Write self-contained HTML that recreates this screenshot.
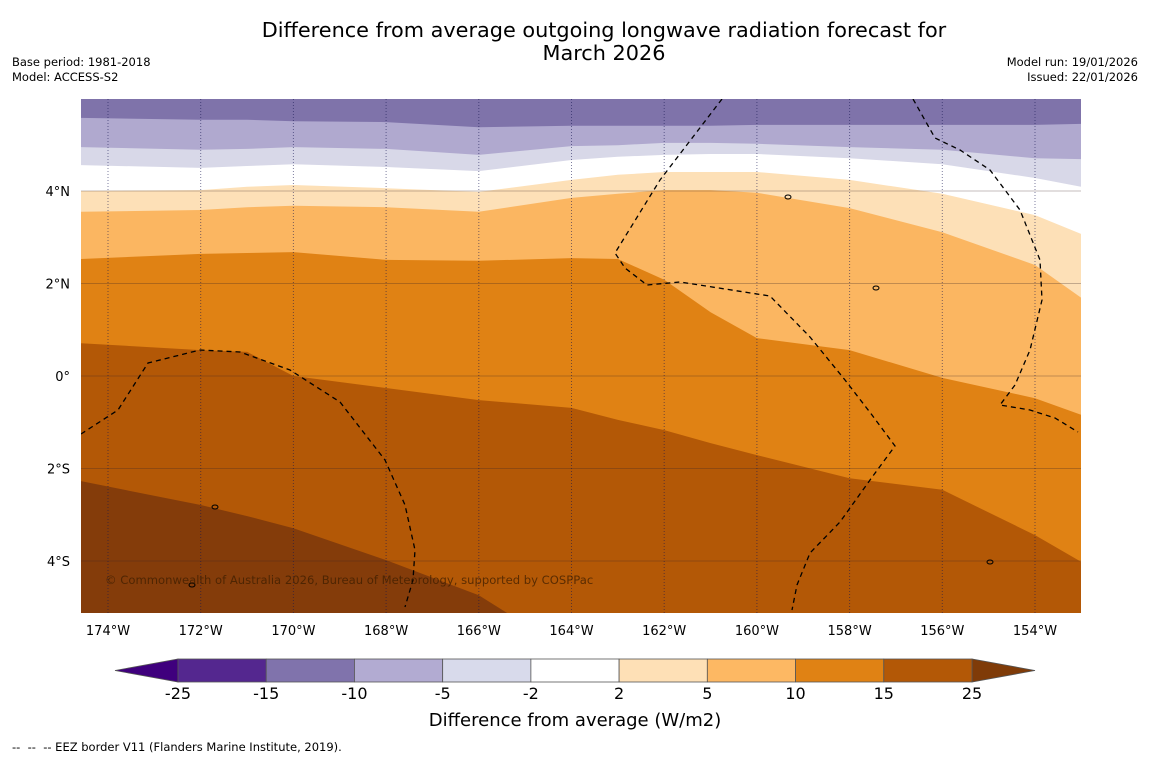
<!DOCTYPE html>
<html><head><meta charset="utf-8">
<style>
body{margin:0;background:#fff;width:1150px;height:758px;overflow:hidden;font-family:"DejaVu Sans","Liberation Sans",sans-serif;}
.t{position:absolute;white-space:nowrap;color:#000;}
</style></head>
<body>
<div class="t" style="left:0;width:1208px;top:19px;text-align:center;font-size:20.8px;line-height:23px;">Difference from average outgoing longwave radiation forecast for<br>March 2026</div>
<div class="t" style="left:12px;top:55px;font-size:11.5px;line-height:15px;">Base period: 1981-2018<br>Model: ACCESS-S2</div>
<div class="t" style="right:12px;top:55px;font-size:11.5px;line-height:15px;text-align:right;">Model run: 19/01/2026<br>Issued: 22/01/2026</div>
<div class="t" style="left:12px;top:740px;font-size:11.5px;">--&nbsp; --&nbsp; -- EEZ border V11 (Flanders Marine Institute, 2019).</div>
<svg id="chart" width="1150" height="758" style="position:absolute;left:0;top:0"></svg>
<script>
const LONS=[-174.6,-172,-171,-170,-168,-166,-164,-163,-162,-161,-160,-158,-156,-154,-153];
const B1=[5.58,5.54,5.54,5.51,5.49,5.38,5.41,5.41,5.41,5.41,5.43,5.43,5.43,5.43,5.45];
const B2=[4.95,4.89,4.91,4.95,4.91,4.78,4.97,4.99,5.04,5.04,5.02,4.95,4.89,4.71,4.69];
const B3=[4.56,4.50,4.54,4.58,4.52,4.43,4.67,4.74,4.78,4.80,4.80,4.71,4.58,4.28,4.09];
const B4=[4.0,4.02,4.09,4.13,4.06,3.98,4.24,4.35,4.41,4.41,4.41,4.24,3.94,3.48,3.07];
const B5=[3.55,3.59,3.65,3.68,3.65,3.55,3.85,3.94,4.02,4.02,3.96,3.63,3.11,2.40,1.69];
const B6=[2.53,2.64,2.66,2.68,2.51,2.49,2.55,2.53,2.08,1.38,0.82,0.56,-0.04,-0.48,-0.84];
const B7=[0.71,0.56,0.52,0,-0.26,-0.52,-0.69,-0.95,-1.17,-1.45,-1.71,-2.21,-2.46,-3.44,-4.02];
const B8=[-2.27,-2.79,-3.03,-3.29,-3.98,-4.74,-6,-6,-6,-6,-6,-6,-6,-6,-6];
const BOUNDS=[B1,B2,B3,B4,B5,B6,B7,B8];
const BAND_COLORS=['#7f73aa','#b0a9cf','#d8d8e8','#ffffff','#fde0b7','#fbb661','#e08214','#b35806','#843c0a'];
const LEVELS=['-25','-15','-10','-5','-2','2','5','10','15','25'];
const BAR_COLORS=['#54278f','#8073ac','#b2abd2','#d8daeb','#ffffff','#fee0b6','#fdb863','#e08214','#b35806'];
const LON_TICKS=[-174,-172,-170,-168,-166,-164,-162,-160,-158,-156,-154];
const LAT_TICKS=[4,2,0,-2,-4];

const X0=81,X1=1081,Y0=99,Y1=613;
const xs=lon=>108+(lon+174)*46.35;
const ys=lat=>376-lat*46.25;
const svg=document.getElementById('chart');
const NS='http://www.w3.org/2000/svg';
function mk(tag,attrs,parent){const e=document.createElementNS(NS,tag);for(const k in attrs)e.setAttribute(k,attrs[k]);(parent||svg).appendChild(e);return e;}
const defs=mk('defs',{});
const cp=mk('clipPath',{id:'clip'},defs);mk('rect',{x:X0,y:Y0,width:X1-X0,height:Y1-Y0},cp);
const g=mk('g',{'clip-path':'url(#clip)'});
const bg=mk('rect',{x:X0,y:Y0,width:X1-X0,height:Y1-Y0,fill:BAND_COLORS[0]},g);


BOUNDS.forEach((b,i)=>{
  let pts=LONS.map((lon,j)=>xs(lon).toFixed(1)+','+ys(b[j]).toFixed(1));
  pts.push(X1+','+(Y1+50));pts.push(X0+','+(Y1+50));
  const p=mk('polygon',{points:pts.join(' '),fill:BAND_COLORS[i+1]},g);
  
  
});
LAT_TICKS.forEach(lat=>{
  const l=mk('line',{x1:X0,x2:X1,y1:ys(lat),y2:ys(lat),stroke:'rgba(60,40,40,0.3)','stroke-width':1},g);
  
  
  const t=mk('text',{x:70,y:ys(lat)+5,'text-anchor':'end','font-size':13,fill:'#000'});
  
  
  t.textContent=lat===0?'0°':Math.abs(lat)+'°'+(lat>0?'N':'S');
});
LON_TICKS.forEach(lon=>{
  const l=mk('line',{x1:xs(lon),x2:xs(lon),y1:Y0,y2:Y1,stroke:'rgba(20,20,80,0.55)','stroke-width':1,'stroke-dasharray':'1,2'},g);
  
  
  const t=mk('text',{x:xs(lon),y:635,'text-anchor':'middle','font-size':13,fill:'#000'});
  
  
  t.textContent=Math.abs(lon)+'°W';
});
const eez=['M81,434 L118,410 L148,363 L200,350 L240,352 L290,370 L340,402 L385,460 L405,505 L415,550 L413,580 L405,607',
'M722,99 L660,180 L615,253 L625,268 L647,285 L680,282 L770,296 L810,337 L845,380 L872,415 L895,446 L870,480 L840,522 L810,553 L797,585 L792,610',
'M913,99 L935,138 L960,150 L990,170 L1020,210 L1040,260 L1042,300 L1030,350 L1015,385 L1000,405 L1030,410 L1055,418 L1078,432'];
eez.forEach(d=>{const p=mk('path',{d:d,fill:'none',stroke:'#000','stroke-width':1.3,'stroke-dasharray':'5,4'},g);
  
  });
[[788,197],[876,288],[215,507],[192,585],[990,562]].forEach(c=>{const e=mk('ellipse',{cx:c[0],cy:c[1],rx:3,ry:2,fill:'none',stroke:'#000','stroke-width':1},g);
  
  });
const cr=mk('text',{x:105,y:584,'font-size':11.6,fill:'rgba(60,30,0,0.75)'},g);


cr.textContent='© Commonwealth of Australia 2026, Bureau of Meteorology, supported by COSPPac';
const CB0=178,CB1=972,CBY=659,CBH=23,seg=(CB1-CB0)/BAR_COLORS.length;
const lt=mk('polygon',{points:`115,670.5 ${CB0},${CBY} ${CB0},${CBY+CBH}`,fill:'#3f007d',stroke:'#555','stroke-width':0.8});


const rt=mk('polygon',{points:`1035,670.5 ${CB1},${CBY} ${CB1},${CBY+CBH}`,fill:'#7f3b08',stroke:'#555','stroke-width':0.8});


BAR_COLORS.forEach((c,i)=>{const r=mk('rect',{x:CB0+i*seg,y:CBY,width:seg,height:CBH,fill:c,stroke:'#555','stroke-width':0.8});
  
  });
LEVELS.forEach((v,i)=>{const t=mk('text',{x:CB0+i*seg,y:699,'text-anchor':'middle','font-size':16,fill:'#000'});
  
  
  t.textContent=v;});
const ct=mk('text',{x:575,y:726,'text-anchor':'middle','font-size':18,fill:'#000'});


ct.textContent='Difference from average (W/m2)';
</script>
</body></html>
